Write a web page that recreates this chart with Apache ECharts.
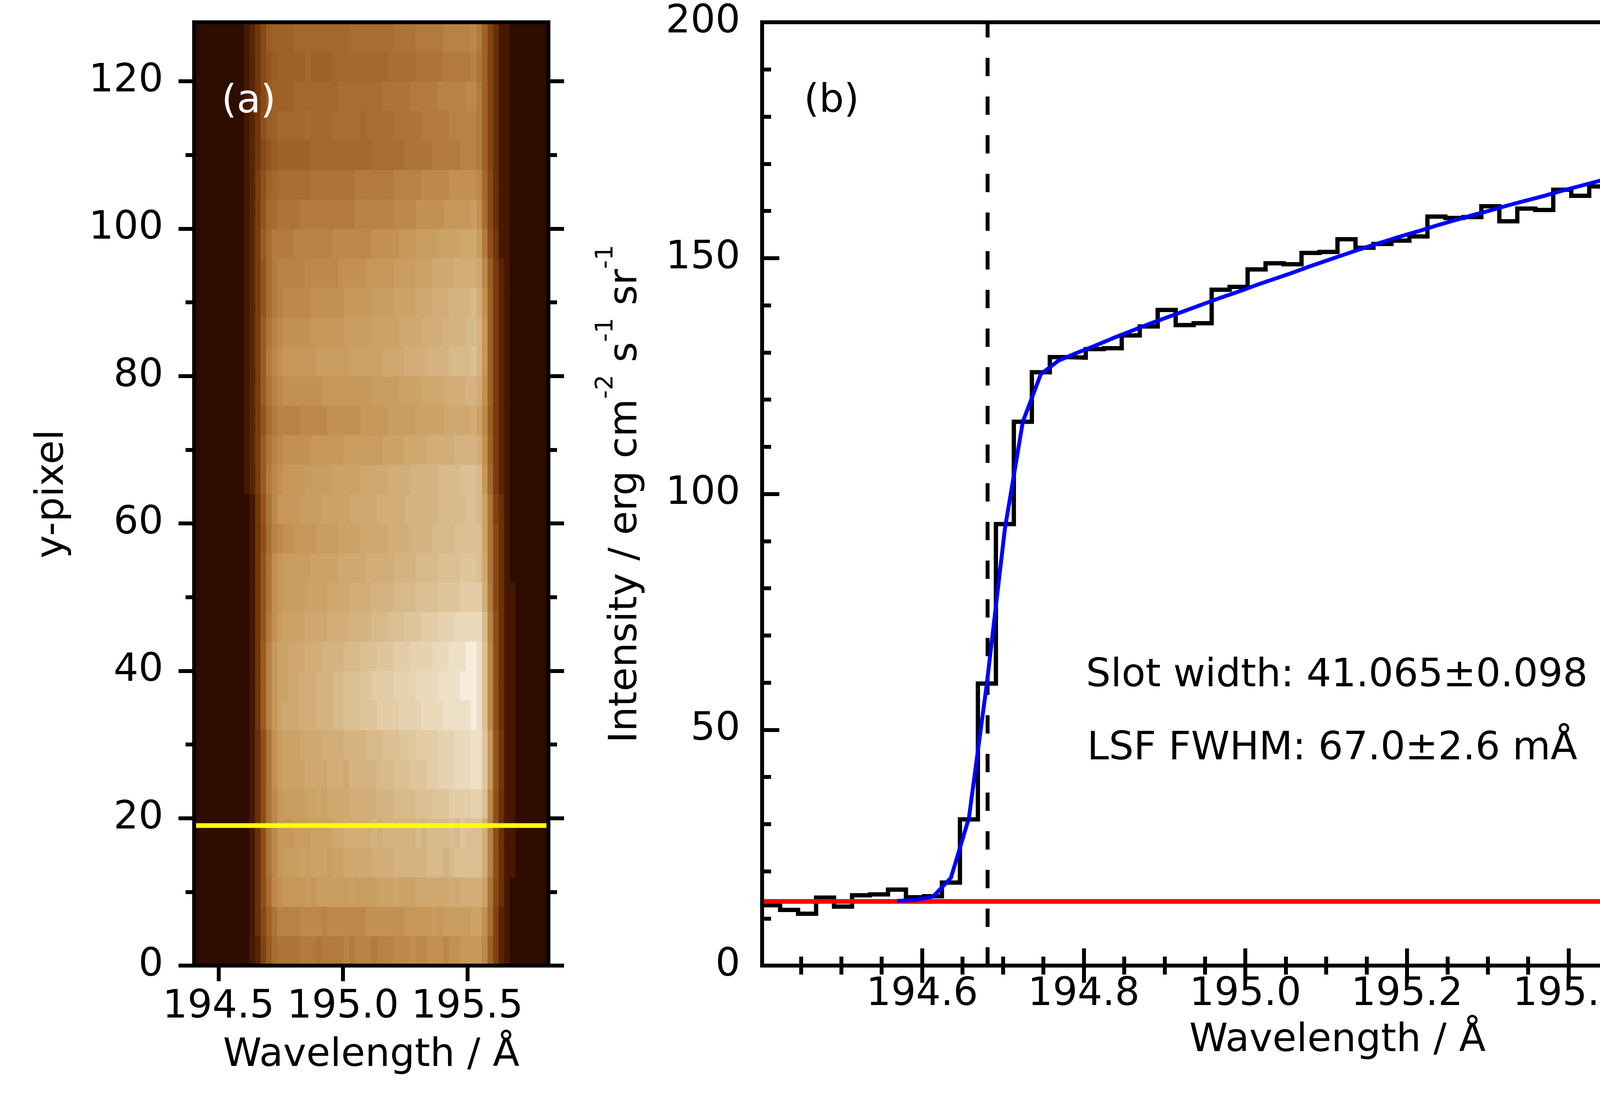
<!DOCTYPE html>
<html>
<head>
<meta charset="utf-8">
<title>Slot profile</title>
<script src="https://cdn.jsdelivr.net/npm/echarts@6.0.0/dist/echarts.min.js"></script>
<style>
    html, body { margin: 0; padding: 0; background: #ffffff; }
    #chart { width: 4998px; height: 2811px; }
</style>
</head>
<body>
<div id="chart"></div>
<script>
'use strict';

var FONT = 'DejaVu Sans';

// wavelength grid: centres of the 64 detector columns (Angstrom)
var binWidth = 0.02225;
var wavelength = [
    194.4131, 194.4354, 194.4576, 194.4799, 194.5021, 194.5244, 194.5466, 194.5689, 194.5911, 194.6134,
    194.6356, 194.6579, 194.6801, 194.7024, 194.7246, 194.7469, 194.7691, 194.7914, 194.8136, 194.8359,
    194.8581, 194.8804, 194.9026, 194.9249, 194.9471, 194.9694, 194.9916, 195.0139, 195.0361, 195.0584,
    195.0806, 195.1029, 195.1251, 195.1474, 195.1696, 195.1919, 195.2141, 195.2364, 195.2586, 195.2809,
    195.3031, 195.3254, 195.3476, 195.3699, 195.3921, 195.4144, 195.4366, 195.4589, 195.4811, 195.5034,
    195.5256, 195.5479, 195.5701, 195.5924, 195.6146, 195.6369, 195.6591, 195.6814, 195.7036, 195.7259,
    195.7481, 195.7704, 195.7926, 195.8149
];

// (b) observed profile along y-pixel 19
var intensity = [
    12.8, 11.8, 11.0, 14.4, 12.5, 14.9, 15.1, 16.1, 14.5, 14.7,
    17.6, 31.0, 59.8, 93.6, 115.3, 125.8, 129.0, 128.9, 130.7, 130.9,
    133.6, 135.5, 139.0, 135.8, 136.2, 143.3, 143.9, 147.6, 148.9, 148.7,
    151.1, 151.3, 154.0, 152.2, 153.0, 153.7, 154.6, 158.8, 158.5, 158.7,
    161.0, 157.8, 160.5, 160.2, 164.5, 163.2, 165.2, 164.2, 172.6, 169.9,
    167.2, 168.7, 150.8, 107.0, 57.5, 31.0, 18.0, 15.1, 14.2, 14.0,
    12.6, 13.8, 13.0, 13.3
];

// (b) fitted slot profile, evaluated on columns 7..58
var fitStart = 7;
var fitIntensity = [
    13.7, 13.9, 14.6, 18.6, 31.3, 59.8, 92.6, 115.3, 125.4, 128.3,
    129.9, 131.4, 133.0, 134.5, 136.0, 137.4, 138.8, 140.2, 141.6, 142.9,
    144.3, 145.6, 146.9, 148.3, 149.6, 150.9, 152.2, 153.4, 154.6, 155.7,
    156.9, 158.0, 159.1, 160.1, 161.2, 162.2, 163.2, 164.3, 165.3, 166.3,
    167.3, 168.2, 168.9, 168.8, 164.3, 146.0, 105.0, 61.4, 28.8, 17.1,
    14.5, 13.8
];

var continuum = 13.6;
var slotEdges = [194.681, 195.594];
var selectedRow = 19;

// (a) slit image: one string per band of 4 y-pixels (band 0 = pixels 0-3),
// one character per wavelength column, intensity = parseInt(char, 36) * 6
var imageBands = [
    '222222222 2348cfg ggghhhghhhhihiiihi iijjjkjjkkkjkklll ljd8432 222222',
    '222222222 2359dgi iiijjjjijjjjjjjkkk kkkklllllmlmmmmmn nkf8432 222222',
    '222222222 235afjk llllmlmmmmmmnmmmmn nnonnnoooooopoppp png9532 222222',
    '222222222 235agjl mmmnmnnnmnnooooopp ppqqqqqqrrrqrssss spia533 222222',
    '2222222222 35agjl llmmmnnnnoopppppqpqqqqqqrqrrrrsrtsss pia533222222',
    '222222222 235agjl mmmmnnonoooopppppq qqrrrrssstttuuuuv vsja533 222222',
    '222222222 235agkm nnnnoooopppoqqqqqr rrssstttuuvvvwwwx xtlb633 222222',
    '222222222 235agkm nnnooooppppqqqqrrr ssstttuuuuvvvwwwx xtlb633 222222',
    '222222222 236ciln ooopppqqqrrssstttu uuuvvvvwwwwxxxxxy xsja533 222222',
    '222222222 236ciln noopppqqqrrsssttuu uuvvvvwwwwxxxxyyy xsja533 222222',
    '222222222 236ciln nooopppqqqqrrrssst ttuuuvvvvwwwxxxyy xsja533 222222',
    '222222222 236bhkm nnnnooooppppqqqqrr rssstttuuuvvvwwww wria533 222222',
    '222222222 236bgkl mmmmnnnnooooppppqq qqrrrrssssttttuuu uph9533 222222',
    '222222222 236bgkl mmmmmnnnnnoooooppp ppqqqqrrrrssssttt sog9532 222222',
    '222222222 236afij kkllllmmmmnnnnoooo oppppqqqqrrrrssss sng9532 222222',
    '222222222 236bgjl lllmmmmnnnnnooooop ppppqqqqqqrrrrrss rng8532 222222',
    '222222222 347chjk llllmmmmmnnnnnoooo oppppqqqqqrrrrsss rle7432 222222',
    '222222222 347cgij kkkkkllllllmmmmmmm nnnnoooopppppqqqq pkd7432 222222',
    '222222222 347bfhi iiijjjjjkkkkkkllll lmmmmmnnnnnooooop njc7432 222222',
    '222222222 347cgij kkkkkkklllllllllmm mmmnnnnooooppppqq pkd7432 222222',
    '222222222 347chjk llllllmmmmmmnnnnnn ooooppppqqqqrrrrs qld7432 222222',
    '222222222 347cgij kkkkkllllllmmmmmnn nnnooooppppqqqqrr qld7432 222222',
    '222222222 347bfhi jjjjjkkkkkklllllmm mmnnnnooopppqqqqr pkd7432 222222',
    '222222222 347bfhi iiiijjjjjjkkkkklll llmmmmnnnoooopppp ojc7432 222222',
    '222222222 347cfhh hhiiiiiiijjjjjjjkk kkklllmmmmnnnnooo mha6332 222222',
    '222222222 347befg ggghhhhhhhhhhiiiii iijjjjkkkkklllllm kf95332 222222',
    '222222222 347adef fffffgggggggghhhhh hhiiiiijjjjjkkkkk je95332 222222',
    '222222222 3469bcd dddddeeeeeeeeeeeff ffffggggghhhhhiii hd85332 222222',
    '222222222 346acde eeeefeeeefffffefff ffggggghhhhhiiiii hd85332 222222',
    '222222222 3469cdd ddeeeeeeeeffffffff ggggghhhhhiiiiijj hd85332 222222',
    '222222222 3469bcd ddddeddddeeeeeeeee efffffggggghhhhhi gd85332 222222',
    '222222222 3469cdd ddeeeeeeeeeeffffff ffgggghhhhhiiiiij hd85332 222222'
];

// tick positions
var aXTicks = [194.5, 195.0, 195.5];
var aYTicks = [0, 20, 40, 60, 80, 100, 120];
var aYMinor = [10, 30, 50, 70, 90, 110];
var bXTicks = [194.6, 194.8, 195.0, 195.2, 195.4, 195.6, 195.8];
var bXMinor = [194.45, 194.5, 194.55, 194.65, 194.7, 194.75, 194.85, 194.9, 194.95, 195.05, 195.1,
    195.15, 195.25, 195.3, 195.35, 195.45, 195.5, 195.55, 195.65, 195.7, 195.75];
var bYTicks = [0, 50, 100, 150, 200];
var bYMinor = [10, 20, 30, 40, 60, 70, 80, 90, 110, 120, 130, 140, 160, 170, 180, 190];

// colour table of the slit image (intensity -> colour)
var colourStops = [
    [0, '#000000'], [12, '#2e0c00'], [18, '#471801'], [30, '#6b3008'], [60, '#8e4f1a'],
    [78, '#9e6226'], [90, '#a86d30'], [102, '#b27b3d'], [114, '#bd884a'], [126, '#c69758'],
    [138, '#cca266'], [150, '#d2ad78'], [162, '#d8b98a'], [174, '#dfc59c'], [186, '#e6d2b0'],
    [198, '#eee0c6'], [210, '#fffaf2']
];

var lamMin = wavelength[0] - binWidth / 2;
var lamMax = wavelength[wavelength.length - 1] + binWidth / 2;

function stopColour(v) {
    for (var i = 1; i < colourStops.length; i++) {
        if (v <= colourStops[i][0]) {
            var a = colourStops[i - 1], b = colourStops[i];
            return echarts.color.lerp((v - a[0]) / (b[0] - a[0]), [a[1], b[1]]);
        }
    }
    return colourStops[colourStops.length - 1][1];
}

var paletteColours = [];
for (var v = 0; v <= 210; v += 6) {
    paletteColours.push(stopColour(v));
}

var imageData = [];
imageBands.forEach(function (band, b) {
    var cells = band.replace(/ /g, '');
    for (var r = b * 4; r < b * 4 + 4; r++) {
        for (var c = 0; c < wavelength.length; c++) {
            imageData.push([wavelength[c], r + 0.5, parseInt(cells.charAt(c), 36) * 6]);
        }
    }
});

var stepData = intensity.map(function (val, i) {
    return [wavelength[i] - binWidth / 2, val];
});
stepData.push([lamMax, intensity[intensity.length - 1]]);

var fitData = fitIntensity.map(function (val, i) {
    return [wavelength[fitStart + i], val];
});

function tickAxis(o) {
    var axis = {
        type: 'value',
        gridIndex: o.grid,
        position: o.position,
        min: o.min,
        max: o.max,
        axisLine: {show: false},
        splitLine: {show: false},
        axisTick: {
            show: true,
            inside: o.inside,
            length: o.length,
            customValues: o.ticks,
            lineStyle: {color: '#000', width: 10}
        },
        axisLabel: {show: false}
    };
    if (o.labels) {
        axis.axisLabel = {
            show: true,
            customValues: o.ticks,
            formatter: o.formatter,
            margin: o.margin,
            color: '#000',
            fontSize: 100,
            fontFamily: FONT
        };
    }
    if (o.name) {
        axis.name = o.name;
        axis.nameLocation = 'middle';
        axis.nameGap = o.nameGap;
        axis.nameRotate = o.nameRotate || 0;
        axis.nameMoveOverlap = false;
        axis.nameTextStyle = o.nameTextStyle || {color: '#000', fontSize: 100, fontFamily: FONT};
    }
    return axis;
}

function oneDecimal(val) {
    return val.toFixed(1);
}

function integer(val) {
    return String(Math.round(val));
}

var chart = echarts.init(document.getElementById('chart'), null, {renderer: 'canvas'});

var option = {
    animation: false,
    backgroundColor: '#ffffff',
    textStyle: {fontFamily: FONT},
    grid: [
        {left: 497, top: 57, width: 907, height: 2415, show: true, borderColor: '#000', borderWidth: 10,
            backgroundColor: 'transparent', z: 6, outerBoundsMode: 'none'},
        {left: 1951, top: 57, width: 2946, height: 2415, show: true, borderColor: '#000', borderWidth: 10,
            backgroundColor: 'transparent', z: 6, outerBoundsMode: 'none'}
    ],
    xAxis: [
        tickAxis({grid: 0, position: 'bottom', min: lamMin, max: lamMax, inside: false, length: 40,
            ticks: aXTicks, labels: true, formatter: oneDecimal, margin: 57,
            name: 'Wavelength / Å', nameGap: 181}),
        tickAxis({grid: 0, position: 'top', min: lamMin, max: lamMax, inside: false, length: 40, ticks: aXTicks}),
        tickAxis({grid: 1, position: 'bottom', min: lamMin, max: lamMax, inside: true, length: 44,
            ticks: bXTicks, labels: true, formatter: oneDecimal, margin: 25,
            name: 'Wavelength / Å', nameGap: 143}),
        tickAxis({grid: 1, position: 'bottom', min: lamMin, max: lamMax, inside: true, length: 23, ticks: bXMinor}),
        tickAxis({grid: 1, position: 'top', min: lamMin, max: lamMax, inside: true, length: 44, ticks: bXTicks}),
        tickAxis({grid: 1, position: 'top', min: lamMin, max: lamMax, inside: true, length: 23, ticks: bXMinor})
    ],
    yAxis: [
        tickAxis({grid: 0, position: 'left', min: 0, max: 128, inside: false, length: 40,
            ticks: aYTicks, labels: true, formatter: integer, margin: 79,
            name: 'y-pixel', nameGap: 312, nameRotate: 90}),
        tickAxis({grid: 0, position: 'left', min: 0, max: 128, inside: false, length: 22, ticks: aYMinor}),
        tickAxis({grid: 0, position: 'right', min: 0, max: 128, inside: false, length: 40, ticks: aYTicks}),
        tickAxis({grid: 0, position: 'right', min: 0, max: 128, inside: false, length: 22, ticks: aYMinor}),
        tickAxis({grid: 1, position: 'left', min: 0, max: 200, inside: true, length: 44,
            ticks: bYTicks, labels: true, formatter: integer, margin: 56,
            name: '{n|Intensity / erg cm}{s|-2}{n| s}{s|-1}{n| sr}{s|-1}', nameGap: 298, nameRotate: 90,
            nameTextStyle: {
                color: '#000', fontSize: 100, fontFamily: FONT,
                rich: {
                    n: {fontSize: 100, fontFamily: FONT, color: '#000', lineHeight: 120, verticalAlign: 'bottom'},
                    s: {fontSize: 62, fontFamily: FONT, color: '#000', lineHeight: 62, verticalAlign: 'bottom',
                        padding: [0, 0, 70, 0]}
                }
            }}),
        tickAxis({grid: 1, position: 'left', min: 0, max: 200, inside: true, length: 23, ticks: bYMinor}),
        tickAxis({grid: 1, position: 'right', min: 0, max: 200, inside: true, length: 44, ticks: bYTicks}),
        tickAxis({grid: 1, position: 'right', min: 0, max: 200, inside: true, length: 23, ticks: bYMinor})
    ],
    visualMap: {
        type: 'continuous',
        show: false,
        seriesIndex: 0,
        dimension: 2,
        min: 0,
        max: 210,
        inRange: {color: paletteColours}
    },
    series: [
        {
            name: 'slit image',
            type: 'custom',
            xAxisIndex: 0,
            yAxisIndex: 0,
            dimensions: ['wavelength', 'row', 'intensity'],
            encode: {x: 0, y: 1},
            data: imageData,
            progressive: 0,
            clip: true,
            silent: true,
            renderItem: function (params, api) {
                var centre = api.coord([api.value(0), api.value(1)]);
                var size = api.size([binWidth, 1]);
                return {
                    type: 'rect',
                    shape: {
                        x: centre[0] - size[0] / 2,
                        y: centre[1] - size[1] / 2,
                        width: size[0] + 0.8,
                        height: size[1] + 0.8
                    },
                    style: {fill: api.visual('color')}
                };
            }
        },
        {
            name: 'selected row',
            type: 'line',
            xAxisIndex: 0,
            yAxisIndex: 0,
            data: [[lamMin, selectedRow], [lamMax, selectedRow]],
            symbol: 'none',
            silent: true,
            z: 3,
            lineStyle: {color: '#ffff00', width: 12}
        },
        {
            name: 'observed',
            type: 'line',
            xAxisIndex: 2,
            yAxisIndex: 4,
            data: stepData,
            step: 'end',
            symbol: 'none',
            silent: true,
            z: 2,
            lineStyle: {color: '#000000', width: 11, join: 'miter'}
        },
        {
            name: 'slot edge 1',
            type: 'line',
            xAxisIndex: 2,
            yAxisIndex: 4,
            data: [[slotEdges[0], 0], [slotEdges[0], 200]],
            symbol: 'none',
            silent: true,
            z: 2,
            lineStyle: {color: '#000000', width: 10, type: [47, 52]}
        },
        {
            name: 'slot edge 2',
            type: 'line',
            xAxisIndex: 2,
            yAxisIndex: 4,
            data: [[slotEdges[1], 0], [slotEdges[1], 200]],
            symbol: 'none',
            silent: true,
            z: 2,
            lineStyle: {color: '#000000', width: 10, type: [47, 52]}
        },
        {
            name: 'continuum',
            type: 'line',
            xAxisIndex: 2,
            yAxisIndex: 4,
            data: [[lamMin, continuum], [lamMax, continuum]],
            symbol: 'none',
            silent: true,
            z: 3,
            lineStyle: {color: '#ff0000', width: 12}
        },
        {
            name: 'fit',
            type: 'line',
            xAxisIndex: 2,
            yAxisIndex: 4,
            data: fitData,
            symbol: 'none',
            silent: true,
            z: 4,
            lineStyle: {color: '#0000ff', width: 10}
        }
    ],
    graphic: [
        {type: 'text', x: 567, y: 262, z: 100, silent: true,
            style: {text: '(a)', fill: '#ffffff', font: '100px "DejaVu Sans"', verticalAlign: 'middle'}},
        {type: 'text', x: 2058, y: 260, z: 100, silent: true,
            style: {text: '(b)', fill: '#000000', font: '100px "DejaVu Sans"', verticalAlign: 'middle'}},
        {type: 'text', x: 2780, y: 1731, z: 100, silent: true,
            style: {text: 'Slot width: 41.065±0.098 pix', fill: '#000000', font: '100px "DejaVu Sans"', verticalAlign: 'middle'}},
        {type: 'text', x: 2783, y: 1918, z: 100, silent: true,
            style: {text: 'LSF FWHM: 67.0±2.6 mÅ', fill: '#000000', font: '100px "DejaVu Sans"', verticalAlign: 'middle'}}
    ]
};

chart.setOption(option);
</script>
</body>
</html>
